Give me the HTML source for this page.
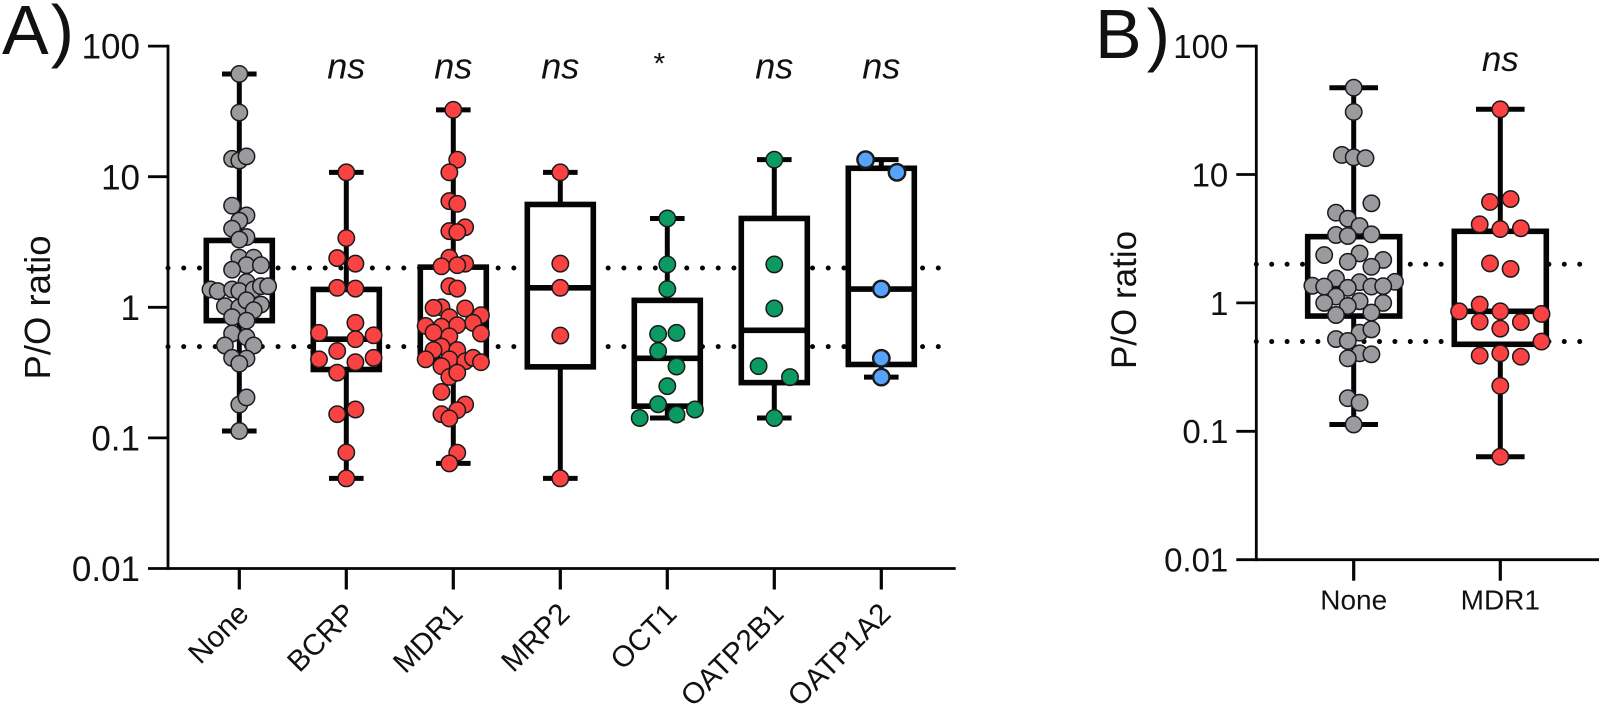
<!DOCTYPE html>
<html lang="en">
<head>
<meta charset="utf-8">
<title>P/O ratio by transporter</title>
<style>
html,body{margin:0;padding:0;background:#fff;}
svg{display:block;font-family:"Liberation Sans",sans-serif;}
</style>
</head>
<body>
<svg id="fig" xmlns="http://www.w3.org/2000/svg" width="1603" height="704" viewBox="0 0 1603 704">
  <rect width="1603" height="704" fill="#fff"/>
  <text x="2" y="54" font-size="70" letter-spacing="2" fill="#111">A)</text>
  <text x="1095" y="58" font-size="70" letter-spacing="5" fill="#111">B)</text>
</svg>
<script>
// ---------- Panel A data ----------
const categoriesA = ["None","BCRP","MDR1","MRP2","OCT1","OATP2B1","OATP1A2"];
const significanceA = ["","ns","ns","ns","*","ns","ns"];
const tickLabels = ["100","10","1","0.1","0.01"];
const tickValues = [100,10,1,0.1,0.01];
const referenceLines = [2,0.5];

const valuesNoneA = [61.2,31,13.7,13.3,14.3,6.0,5.05,4.6,4.0,3.45,3.3,2.4,2.4,2.1,2.1,1.94,1.56,1.37,1.33,1.37,1.33,1.37,1.45,1.45,1.02,1.0,1.13,1.05,0.95,0.84,0.79,0.63,0.59,0.51,0.51,0.41,0.405,0.37,0.18,0.204,0.113];
const slotsNoneA  = [0,0,-1,0,1,-1,1,0,-1,1,0,0,2,1,3,-1,1,-4,-3,-1,0,2,3,4,-2,0,1,3,2,-1,1,-1,1,-2,2,-1,1,0,0,1,0];
const valuesBcrp = [10.8,3.39,2.38,2.16,1.41,1.39,0.76,0.637,0.61,0.57,0.463,0.40,0.41,0.38,0.316,0.152,0.165,0.0774,0.049];
const slotsBcrp  = [0,0,-1,1,-1,1,1,-3,3,1,-1,-3,3,1,-1,-1,1,0,0];
const valuesMdr1A = [32.5,13.5,10.8,6.5,6.2,4.1,3.83,3.77,2.4,2.06,2.16,2.1,1.45,1.39,1.0,0.99,0.98,0.84,0.87,0.76,0.72,0.71,0.73,0.64,0.6,0.63,0.5,0.47,0.47,0.40,0.40,0.386,0.41,0.38,0.354,0.293,0.316,0.225,0.18,0.163,0.152,0.141,0.077,0.0638];
const slotsMdr1A  = [0,1,-1,-1,1,3,-1,1,-1,-3,3,1,-1,1,-3,-5,3,-1,7,5,-7,-3,1,-5,-1,7,-3,-5,1,-7,-1,3,5,7,-3,-1,1,-3,3,1,-3,-1,1,-1];
const valuesMrp2 = [10.8,2.16,1.41,0.608,0.049];
const slotsMrp2  = [0,0,0,0,0];
const valuesOct1 = [4.79,2.13,1.38,0.625,0.637,0.463,0.352,0.249,0.181,0.142,0.151,0.165];
const slotsOct1  = [0,0,0,-1,1,-1,1,0,-1,-3,1,3];
const valuesOatp2b1 = [13.5,2.13,0.98,0.354,0.292,0.142];
const slotsOatp2b1  = [0,0,0,-1,1,0];
const valuesOatp1a2 = [13.5,10.8,1.38,0.407,0.292];
const slotsOatp1a2  = [-1,1,0,0,0];

const boxLowA    = [0.79,0.334,0.40,0.35,0.175,0.265,0.365];
const boxMedianA = [1.33,0.57,0.72,1.41,0.407,0.667,1.38];
const boxHighA   = [3.25,1.37,2.03,6.13,1.13,4.79,11.6];
const whiskerLowA  = [0.113,0.049,0.0638,0.049,0.142,0.142,0.292];
const whiskerHighA = [61.2,10.8,32.5,10.8,4.79,13.5,13.5];

// ---------- Panel B data ----------
const categoriesB = ["None","MDR1"];
const significanceB = ["","ns"];
const valuesNoneB = [47.4,30.7,14.2,13.6,13.4,5.97,5.04,4.53,3.97,3.38,3.32,3.42,2.36,2.43,2.09,2.16,1.91,1.55,1.46,1.45,1.36,1.34,1.31,1.34,1.35,1.12,1.03,1.0,1.0,0.946,0.805,0.84,0.586,0.622,0.523,0.505,0.405,0.398,0.37,0.181,0.167,0.113];
const slotsNoneB  = [0,0,-2,0,2,3,-3,-1,1,-3,-1,3,-5,1,-1,5,3,-3,7,1,-7,-5,-1,3,5,-3,1,-5,5,-1,-3,3,1,3,-3,-1,1,3,-1,-1,1,0];
const valuesMdr1B = [32.2,6.44,6.11,4.09,3.76,3.81,2.03,1.84,0.97,0.86,0.86,0.82,0.714,0.71,0.63,0.5,0.388,0.405,0.381,0.226,0.0634];
const slotsMdr1B  = [0,1,-1,-2,0,2,-1,1,-2,-4,0,4,-2,2,0,4,-2,0,2,0,0];
const boxLowB    = [0.79,0.476];
const boxMedianB = [1.33,0.86];
const boxHighB   = [3.28,3.61];
const whiskerLowB  = [0.113,0.0634];
const whiskerHighB = [47.4,32.2];

// ---------- Drawing ----------
const NS = "http://www.w3.org/2000/svg";
const fig = document.getElementById("fig");
function mk(tag, attrs, parent, txt){
  const el = document.createElementNS(NS, tag);
  for (const k in attrs) el.setAttribute(k, attrs[k]);
  if (txt !== undefined) el.textContent = txt;
  (parent || fig).appendChild(el);
  return el;
}
const INK = "#050505";

function drawPanel(p){
  const y = v => p.y1 + (p.y01 - p.y1) * (-Math.log10(v)) ;
  const x = i => p.x0 + i * p.dx;
  const g = mk("g", {}, fig);
  
  

  // reference lines
  p.refs.forEach(function(r){
    const l = mk("line", {x1:p.axisX, x2:p.axisEnd - 12, y1:y(r), y2:y(r), stroke:INK, "stroke-width":5, "stroke-linecap":"round", "stroke-dasharray":"0 " + p.dotGap}, g);
    
    
  });

  // axes
  const yTop = y(p.tickValues[0]), yBot = y(p.tickValues[p.tickValues.length - 1]);
  const ya = mk("line", {x1:p.axisX, x2:p.axisX, y1:yTop - 1.4, y2:yBot + 1.4, stroke:INK, "stroke-width":2.8}, g);
  
  
  const xa = mk("line", {x1:p.axisX, x2:p.axisEnd, y1:yBot, y2:yBot, stroke:INK, "stroke-width":2.8}, g);
  
  

  p.tickValues.forEach(function(v, i){
    const t = mk("line", {x1:p.axisX - 20, x2:p.axisX, y1:y(v), y2:y(v), stroke:INK, "stroke-width":2.8}, g);
    
    
    const lab = mk("text", {x:p.axisX - 28, y:y(v) + p.tickSize * 0.36, "text-anchor":"end", "font-size":p.tickSize, fill:"#111"}, g, p.tickLabels[i]);
    
    
  });

  const ttl = mk("text", {transform:"translate(" + p.titleX + "," + p.titleY + ") rotate(-90)", "text-anchor":"middle", "font-size":p.titleSize, fill:"#111"}, g, "P/O ratio");
  
  

  // groups
  p.cats.forEach(function(c, i){
    const cx = x(i);
    const tick = mk("line", {x1:cx, x2:cx, y1:yBot, y2:yBot + 21, stroke:INK, "stroke-width":3.2}, g);
    
    
    let xl;
    if (p.rotated) {
      xl = mk("text", {transform:"translate(" + (cx + 11) + "," + (yBot + 47) + ") rotate(-45)", "text-anchor":"end", "font-size":p.catSize, fill:"#111"}, g, c);
    } else {
      xl = mk("text", {x:cx, y:yBot + 50, "text-anchor":"middle", "font-size":p.catSize, fill:"#111"}, g, c);
    }
    
    

    const grp = mk("g", {}, g);
    
    

    // whisker stem + caps
    const stem = mk("line", {x1:cx, x2:cx, y1:y(p.whiskerHigh[i]), y2:y(p.whiskerLow[i]), stroke:INK, "stroke-width":p.stroke}, grp);
    
    
    [p.whiskerHigh[i], p.whiskerLow[i]].forEach(function(w){
      const cap = mk("line", {x1:cx - p.capHalf, x2:cx + p.capHalf, y1:y(w), y2:y(w), stroke:INK, "stroke-width":p.stroke}, grp);
      
      
    });
    // box
    const box = mk("rect", {x:cx - p.boxHalf, y:y(p.boxHigh[i]), width:2 * p.boxHalf, height:y(p.boxLow[i]) - y(p.boxHigh[i]), fill:"#fff", stroke:INK, "stroke-width":p.boxStroke}, grp);
    
    
    const med = mk("line", {x1:cx - p.boxHalf, x2:cx + p.boxHalf, y1:y(p.boxMedian[i]), y2:y(p.boxMedian[i]), stroke:INK, "stroke-width":p.boxStroke}, grp);
    
    

    // points
    p.values[i].forEach(function(v, j){
      const pt = mk("circle", {cx:cx + p.slots[i][j] * p.slotSize[i], cy:y(v), r:p.r, fill:p.colors[i], stroke:"#1a1a1a", "stroke-width":p.colors[i] === BLUE ? 2.4 : 1.5}, grp);
      
      
    });

    // significance
    if (p.sig[i]) {
      const star = p.sig[i] === "*";
      const s = mk("text", {x:star ? cx - 8 : cx, y:star ? p.sigY - 5 : p.sigY, "text-anchor":"middle", "font-size":star ? 30 : p.sigSize, "font-style":star ? "normal" : "italic", fill:"#111"}, g, p.sig[i]);
      
      
    }
  });
}

const GRAY = "#9a9a9f", RED = "#fb4242", GREEN = "#0c9a63", BLUE = "#57a3fb";

drawPanel({
  id:"panel-a", x0:239.3, dx:107, axisX:168, axisEnd:955.7,
  y1:307.3, y01:437.9, tickValues:tickValues, tickLabels:tickLabels, refs:referenceLines, dotGap:15.72,
  tickSize:35, titleX:50, titleY:307.5, titleSize:36.5, catSize:29.5, rotated:true,
  cats:categoriesA, sig:significanceA, sigY:78.3, sigSize:36,
  values:[valuesNoneA,valuesBcrp,valuesMdr1A,valuesMrp2,valuesOct1,valuesOatp2b1,valuesOatp1a2],
  slots:[slotsNoneA,slotsBcrp,slotsMdr1A,slotsMrp2,slotsOct1,slotsOatp2b1,slotsOatp1a2],
  slotSize:[7.2,9.1,3.95,0,9.2,15.7,15.7],
  colors:[GRAY,RED,RED,RED,GREEN,GREEN,BLUE],
  boxLow:boxLowA, boxMedian:boxMedianA, boxHigh:boxHighA, whiskerLow:whiskerLowA, whiskerHigh:whiskerHighA,
  boxHalf:33, capHalf:17.3, stroke:5, boxStroke:5.6, r:8.2
});

drawPanel({
  id:"panel-b", x0:1353.7, dx:146.6, axisX:1256.3, axisEnd:1599,
  y1:302.9, y01:431.3, tickValues:tickValues, tickLabels:tickLabels, refs:referenceLines, dotGap:15.4,
  tickSize:33, titleX:1136, titleY:300, titleSize:35, catSize:28, rotated:false,
  cats:categoriesB, sig:significanceB, sigY:71, sigSize:35,
  values:[valuesNoneB,valuesMdr1B],
  slots:[slotsNoneB,slotsMdr1B],
  slotSize:[5.9,10.3],
  colors:[GRAY,RED],
  boxLow:boxLowB, boxMedian:boxMedianB, boxHigh:boxHighB, whiskerLow:whiskerLowB, whiskerHigh:whiskerHighB,
  boxHalf:46, capHalf:24.3, stroke:5, boxStroke:5.6, r:8.2
});
</script>
</body>
</html>
